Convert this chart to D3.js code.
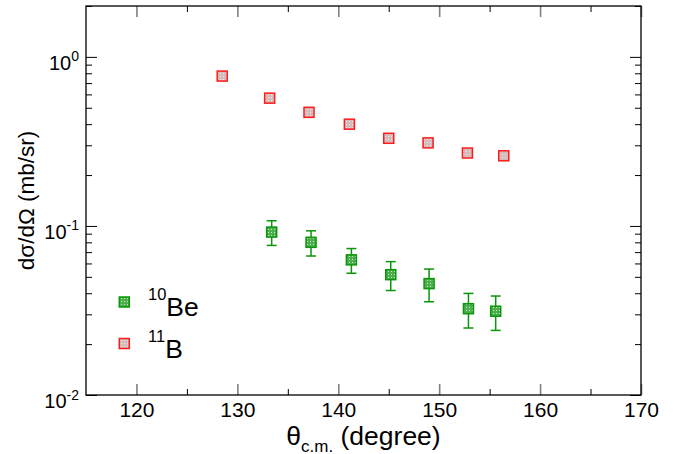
<!DOCTYPE html>
<html>
<head>
<meta charset="utf-8">
<script src="https://cdn.jsdelivr.net/npm/d3@7"></script>
<style>
  body { margin: 0; background: #fff; }
  svg { display: block; font-family: "Liberation Sans", Arial, Helvetica, sans-serif; }
</style>
</head>
<body>
<svg id="chart" width="675" height="454"></svg>
<script>
// ---- data ----
const xTicks = [120, 130, 140, 150, 160, 170];
const xMinorTicks = [125, 135, 145, 155, 165];
const yTicks = [1, 0.1, 0.01];
const yTickExponents = ["0", "-1", "-2"];

const b11Angle = [128.5, 133.2, 137.1, 141.1, 145.0, 148.9, 152.8, 156.4];
const b11Value = [0.77, 0.57, 0.47, 0.40, 0.33, 0.31, 0.27, 0.26];

const be10Angle = [133.4, 137.3, 141.3, 145.2, 149.0, 152.9, 155.6];
const be10Value = [0.092, 0.080, 0.063, 0.0515, 0.0456, 0.0324, 0.0313];
const be10Error = [0.0153, 0.0136, 0.0105, 0.0100, 0.0100, 0.0075, 0.0072];

// ---- layout ----
const svg = d3.select("#chart");
const L = 86, T = 6, R = 641, B = 395;
const W = R - L, H = B - T;

const x = d3.scaleLinear().domain([115, 170]).range([L, R]);
const y = d3.scaleLog().domain([0.01, 2]).range([B, T]);

const defs = svg.append("defs");
function pat(id, bg, dot) {
  const p = defs.append("pattern").attr("id", id).attr("patternUnits", "userSpaceOnUse")
    .attr("width", 3).attr("height", 3);
  p.append("rect").attr("width", 3).attr("height", 3).attr("fill", bg);
  p.append("rect").attr("x", 1).attr("y", 1).attr("width", 1).attr("height", 1).attr("fill", dot);
}
pat("patRed", "#d4bcbc", "#f2e8e8");
pat("patGreen", "#4cae4c", "#c8e8c8");

const redStroke = "#ff1a1a";
const greenStroke = "#0a960a";

// ---- axes ----
const minorY = [];
[0.01, 0.1, 1].forEach(d => { for (let k = 2; k <= 9; k++) { const v = d * k; if (v <= 2) minorY.push(v); } });

// bottom
const gB = svg.append("g").attr("transform", `translate(0,${B})`)
  .call(d3.axisBottom(x).tickValues(xTicks).tickSize(-11).tickPadding(7.5).tickFormat(d3.format("d")));
gB.selectAll(".tick line").attr("stroke", "#808080").attr("stroke-width", 1.6);
svg.append("g").attr("transform", `translate(0,${B})`)
  .call(d3.axisBottom(x).tickValues(xMinorTicks).tickSize(-6).tickFormat(""));
// top
const gT = svg.append("g").attr("transform", `translate(0,${T})`)
  .call(d3.axisTop(x).tickValues(xTicks).tickSize(-11).tickFormat(""));
gT.selectAll(".tick line").attr("stroke", "#808080").attr("stroke-width", 1.6);
svg.append("g").attr("transform", `translate(0,${T})`)
  .call(d3.axisTop(x).tickValues(xMinorTicks).tickSize(-6).tickFormat(""));
// left
const gL = svg.append("g").attr("transform", `translate(${L},0)`)
  .call(d3.axisLeft(y).tickValues(yTicks).tickSize(-11).tickPadding(7).tickFormat(""));
svg.append("g").attr("transform", `translate(${L},0)`)
  .call(d3.axisLeft(y).tickValues(minorY).tickSize(-6).tickFormat(""));
// right
svg.append("g").attr("transform", `translate(${R},0)`)
  .call(d3.axisRight(y).tickValues(yTicks).tickSize(-11).tickFormat(""));
svg.append("g").attr("transform", `translate(${R},0)`)
  .call(d3.axisRight(y).tickValues(minorY).tickSize(-6).tickFormat(""));

svg.selectAll(".domain").remove();
svg.selectAll(".tick text").attr("font-family", "Liberation Sans, Arial, sans-serif").attr("fill", "#000");
gB.selectAll(".tick text").attr("font-size", 21);

// y tick labels with superscripts
gL.selectAll(".tick").each(function(d, i) {
  const t = d3.select(this).select("text");
  t.attr("x", -7).attr("dy", null).attr("y", 12.5).attr("text-anchor", "end").attr("font-size", 20);
  t.text("10");
  t.append("tspan").attr("font-size", 14).attr("dy", -8.5).text(yTickExponents[i]);
});

// frame
svg.append("rect").attr("x", L).attr("y", T).attr("width", W).attr("height", H)
  .attr("fill", "none").attr("stroke", "#000").attr("stroke-width", 1.3);

// ---- data marks ----
const ms = 10;
// error bars for Be
const eb = svg.append("g").attr("stroke", greenStroke).attr("stroke-width", 1.5).attr("fill", "none");
be10Angle.forEach((a, i) => {
  const cx = x(a), y1 = y(be10Value[i] + be10Error[i]), y0 = y(be10Value[i] - be10Error[i]);
  eb.append("line").attr("x1", cx).attr("x2", cx).attr("y1", y1).attr("y2", y0);
  eb.append("line").attr("x1", cx - 5).attr("x2", cx + 5).attr("y1", y1).attr("y2", y1);
  eb.append("line").attr("x1", cx - 5).attr("x2", cx + 5).attr("y1", y0).attr("y2", y0);
});

svg.append("g").selectAll("rect").data(d3.zip(be10Angle, be10Value)).join("rect")
  .attr("x", d => x(d[0]) - ms / 2).attr("y", d => y(d[1]) - ms / 2)
  .attr("width", ms).attr("height", ms)
  .attr("fill", "url(#patGreen)").attr("stroke", greenStroke).attr("stroke-width", 1.5);

svg.append("g").selectAll("rect").data(d3.zip(b11Angle, b11Value)).join("rect")
  .attr("x", d => x(d[0]) - ms / 2).attr("y", d => y(d[1]) - ms / 2)
  .attr("width", ms).attr("height", ms)
  .attr("fill", "url(#patRed)").attr("stroke", redStroke).attr("stroke-width", 1.5);

// ---- legend ----
const legend = [
  { sup: "10", name: "Be", fill: "url(#patGreen)", stroke: greenStroke, base: 316 },
  { sup: "11", name: "B", fill: "url(#patRed)", stroke: redStroke, base: 357.5 }
];
legend.forEach(l => {
  svg.append("rect").attr("x", 124.3 - ms / 2).attr("y", l.base - 14 - ms / 2)
    .attr("width", ms).attr("height", ms).attr("fill", l.fill).attr("stroke", l.stroke).attr("stroke-width", 1.5);
  const t = svg.append("text").attr("x", 148).attr("y", l.base).attr("font-size", 26.5).attr("fill", "#000");
  t.append("tspan").attr("font-size", 16.5).attr("dy", -16).text(l.sup);
  t.append("tspan").attr("dy", 16).text(l.name);
});

// ---- axis titles ----
svg.append("text").attr("transform", `translate(34,${(T + B) / 2}) rotate(-90)`)
  .attr("text-anchor", "middle").attr("font-size", 22.5).attr("fill", "#000")
  .text("dσ/dΩ (mb/sr)");

const xt = svg.append("text").attr("x", (L + R) / 2).attr("y", 445)
  .attr("text-anchor", "middle").attr("font-size", 26.5).attr("fill", "#000");
xt.append("tspan").text("θ");
xt.append("tspan").attr("font-size", 17).attr("dy", 6.5).text("c.m.");
xt.append("tspan").attr("dy", -6.5).text(" (degree)");
</script>
</body>
</html>
